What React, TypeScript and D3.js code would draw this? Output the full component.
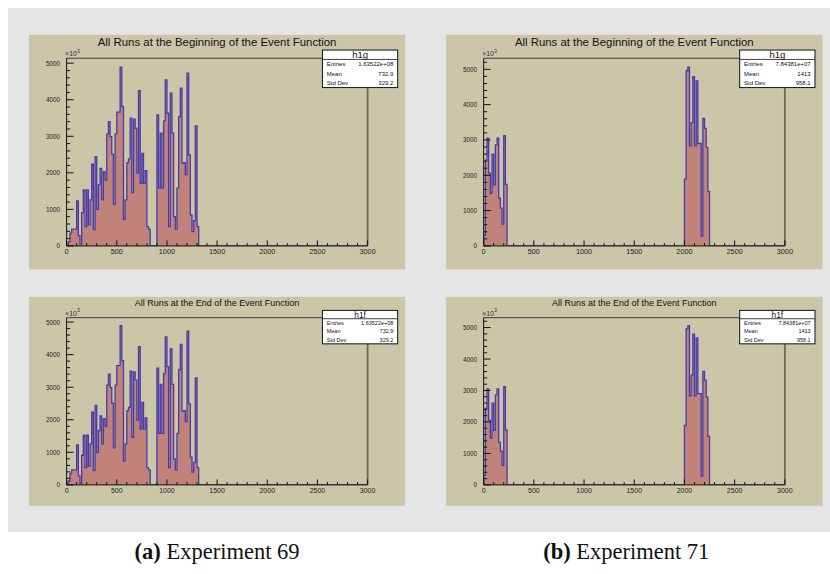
import React from "react";
import * as d3 from "d3";

// ---------- data (values in units of 10^3) ----------
const X_MIN = 0;
const X_MAX = 3000;
const N_BINS = 180;
const xMajorTicks = [0, 500, 1000, 1500, 2000, 2500, 3000];
const yMajorTicks = [0, 1000, 2000, 3000, 4000, 5000];

// Experiment 69 : bins starting at bin 0
const exp69Start = 0;
const exp69Counts = [
  50, 120, 350, 460, 460, 460, 1230, 280, 50, 910,
  1530, 530, 1530, 575, 1260, 2235, 440, 2445, 1000, 1670,
  2120, 1260, 2035, 1800, 3065, 3400, 2990, 2510, 1140, 3065,
  3660, 3660, 4890, 3815, 730, 1260, 2280, 2380, 3495, 1460,
  3470, 3220, 1990, 4245, 1715, 2535, 1715, 2060, 530, 460,
  0, 0, 0, 0,
  3585, 1580, 3085, 1580, 3420, 4545, 3630, 530, 4180, 3085,
  800, 460, 1580, 3540, 4315, 2265, 2280, 1945, 4725, 2490,
  850, 390, 690, 3285, 530,
];

// Experiment 71 : two clusters
const exp71LowStart = 0;
const exp71LowCounts = [310, 2430, 3050, 2060, 1490, 2595, 1730, 2860, 3050, 1350, 1070, 620, 3120, 1745];
const exp71HighStart = 120;
const exp71HighCounts = [1890, 4960, 5060, 2830, 3490, 4790, 2830, 4670, 2900, 2900, 280, 3610, 3330, 2790, 1540];

const titles = ["All Runs at the Beginning of the Event Function", "All Runs at the End of the Event Function"];
const histNames = ["h1g", "h1f"];
const statLabels = ["Entries", "Mean", "Std Dev"];
const exp69Stats = ["1.63522e+08", "732.9", "329.2"];
const exp71Stats = ["7.84381e+07", "1413", "958.1"];
const captionsBold = ["(a)", "(b)"];
const captionsText = [" Experiment 69", " Experiment 71"];

// ---------- styles ----------
const PAD_COLOR = "#ccc6a9";
const BG_COLOR = "#e5e5e5";
const FILL_COLOR = "#c1827a";
const LINE_COLOR = "#463ca8";
const SANS = "'Liberation Sans', Arial, Helvetica, sans-serif";

type Segment = { start: number; counts: number[] };

function buildFull(segments: Segment[]): number[] {
  const full = new Array(N_BINS).fill(0);
  segments.forEach((s) => s.counts.forEach((c, i) => (full[s.start + i] = c)));
  return full;
}

type PanelProps = {
  id: string;
  x0: number; y0: number; w: number; h: number;
  title: string; titleSize: number;
  name: string; nameSize: number; statSize: number;
  stats: string[];
  segments: Segment[];
};

function HistPanel(p: PanelProps) {
  const fx0 = p.x0 + 0.1 * p.w, fx1 = p.x0 + 0.9 * p.w;
  const fy0 = p.y0 + 0.1 * p.h, fy1 = p.y0 + 0.9 * p.h;
  const full = buildFull(p.segments);
  const ymax = 1.05 * (d3.max(full) as number);
  const x = d3.scaleLinear().domain([X_MIN, X_MAX]).range([fx0, fx1]);
  const y = d3.scaleLinear().domain([0, ymax]).range([fy1, fy0]);
  const bw = (X_MAX - X_MIN) / N_BINS;

  const pts = [{ x: 0, y: 0 }, ...full.map((c, i) => ({ x: X_MIN + i * bw, y: c })), { x: X_MAX, y: 0 }];
  const line = d3.line<{ x: number; y: number }>().x((d) => x(d.x)).y((d) => y(d.y)).curve(d3.curveStepAfter);
  const area = d3.area<{ x: number; y: number }>().x((d) => x(d.x)).y0(y(0)).y1((d) => y(d.y)).curve(d3.curveStepAfter);

  const xMinor = d3.range(X_MIN, X_MAX + 1, 100).filter((v) => v % 500 !== 0);
  const yMinor = d3.range(0, ymax, 200).filter((v) => v % 1000 !== 0);

  const sx0 = p.x0 + 0.78 * p.w, sx1 = p.x0 + 0.98 * p.w;
  const sy0 = p.y0 + 0.065 * p.h, sy1 = p.y0 + 0.225 * p.h;
  const rowH = (sy1 - sy0) / 4;

  const xLabSize = p.h > 220 ? 7.3 : 7;
  const yLabSize = 6.4;

  return (
    <g>
      <rect x={p.x0} y={p.y0} width={p.w} height={p.h} fill={PAD_COLOR} />
      <text x={p.x0 + p.w / 2} y={p.y0 + 0.03 * p.h} fontSize={p.titleSize} fontFamily={SANS}
        textAnchor="middle" dominantBaseline="central" fill="#111">{p.title}</text>
      <clipPath id={`clip-${p.id}`}>
        <rect x={fx0} y={fy0} width={fx1 - fx0} height={fy1 - fy0} />
      </clipPath>
      <g clipPath={`url(#clip-${p.id})`}>
        <path d={area(pts) as string} fill={FILL_COLOR} />
        <path d={line(pts) as string} fill="none" stroke={LINE_COLOR} strokeWidth={1.3} />
      </g>
      {/* frame */}
      <line x1={fx0} x2={fx1} y1={fy0} y2={fy0} stroke="#3c3c3c" strokeWidth={1} />
      <line x1={fx1} x2={fx1} y1={fy0} y2={fy1} stroke="#6d6957" strokeWidth={1.8} />
      {/* axes */}
      <line x1={fx0} x2={fx1} y1={fy1} y2={fy1} stroke="#111" strokeWidth={1} />
      <line x1={fx0} x2={fx0} y1={fy0} y2={fy1} stroke="#111" strokeWidth={1} />
      {xMajorTicks.map((v) => (
        <g key={`xm${v}`}>
          <line x1={x(v)} x2={x(v)} y1={fy1} y2={fy1 - 5.5} stroke="#111" strokeWidth={1} />
          <text x={x(v)} y={fy1 + 6} fontSize={xLabSize} fontFamily={SANS} textAnchor="middle"
            dominantBaseline="central" fill="#222">{v}</text>
        </g>
      ))}
      {xMinor.map((v) => (
        <line key={`xn${v}`} x1={x(v)} x2={x(v)} y1={fy1} y2={fy1 - 2.8} stroke="#111" strokeWidth={1} />
      ))}
      {yMajorTicks.map((v) => (
        <g key={`ym${v}`}>
          <line x1={fx0} x2={fx0 + 7} y1={y(v)} y2={y(v)} stroke="#111" strokeWidth={1} />
          <text x={fx0 - 6.5} y={y(v)} fontSize={yLabSize} fontFamily={SANS} textAnchor="end"
            dominantBaseline="central" fill="#222">{v}</text>
        </g>
      ))}
      {yMinor.map((v) => (
        <line key={`yn${v}`} x1={fx0} x2={fx0 + 3.5} y1={y(v)} y2={y(v)} stroke="#111" strokeWidth={1} />
      ))}
      <text x={fx0 - 1.5} y={fy0 - 4.5} fontSize={7} fontFamily={SANS} fill="#333" dominantBaseline="central">
        ×10<tspan dy={-2.8} fontSize={5.2}>3</tspan>
      </text>
      {/* stats box */}
      <rect x={sx0} y={sy0} width={sx1 - sx0} height={sy1 - sy0} fill="#ffffff" stroke="#111" strokeWidth={1} />
      <line x1={sx0} x2={sx1} y1={sy0 + rowH} y2={sy0 + rowH} stroke="#111" strokeWidth={0.8} />
      <text x={(sx0 + sx1) / 2} y={sy0 + rowH / 2} fontSize={p.nameSize} fontFamily={SANS} textAnchor="middle"
        dominantBaseline="central" fill="#111">{p.name}</text>
      {statLabels.map((lab, i) => (
        <g key={lab}>
          <text x={sx0 + 4.3} y={sy0 + rowH * (1.5 + i)} fontSize={p.statSize} fontFamily={SANS}
            dominantBaseline="central" fill="#111">{lab}</text>
          <text x={sx1 - 4.3} y={sy0 + rowH * (1.5 + i)} fontSize={p.statSize} fontFamily={SANS}
            textAnchor="end" dominantBaseline="central" fill="#111">{p.stats[i]}</text>
        </g>
      ))}
    </g>
  );
}

export default function App() {
  const seg69: Segment[] = [{ start: exp69Start, counts: exp69Counts }];
  const seg71: Segment[] = [
    { start: exp71LowStart, counts: exp71LowCounts },
    { start: exp71HighStart, counts: exp71HighCounts },
  ];
  const cols = [{ x0: 29, w: 376.2 }, { x0: 446, w: 376.5 }];
  const rows = [{ y0: 34.8, h: 234.6, titleSize: 11.4, nameSize: 9.5, statSize: 6 },
                { y0: 296.8, h: 209, titleSize: 9, nameSize: 8.3, statSize: 5.5 }];
  const data = [seg69, seg71];
  const stats = [exp69Stats, exp71Stats];
  return (
    <svg width={830} height={574} style={{ position: "absolute", left: 0, top: 0, background: "#fff" }}
      xmlns="http://www.w3.org/2000/svg">
      <rect x={0} y={0} width={830} height={574} fill="#ffffff" />
      <rect x={8} y={8} width={822} height={524} fill={BG_COLOR} />
      {rows.map((r, ri) =>
        cols.map((c, ci) => (
          <HistPanel key={`${ri}-${ci}`} id={`p${ri}${ci}`} x0={c.x0} y0={r.y0} w={c.w} h={r.h}
            title={titles[ri]} titleSize={r.titleSize} name={histNames[ri]} nameSize={r.nameSize}
            statSize={r.statSize} stats={stats[ci]} segments={data[ci]} />
        ))
      )}
      {cols.map((c, ci) => (
        <text key={`cap${ci}`} x={c.x0 + c.w / 2 + (ci === 1 ? -8 : 0)} y={559} fontSize={22.5}
          fontFamily="'Liberation Serif', 'Times New Roman', serif" textAnchor="middle" fill="#111">
          <tspan fontWeight="bold">{captionsBold[ci]}</tspan>
          <tspan>{captionsText[ci]}</tspan>
        </text>
      ))}
    </svg>
  );
}
